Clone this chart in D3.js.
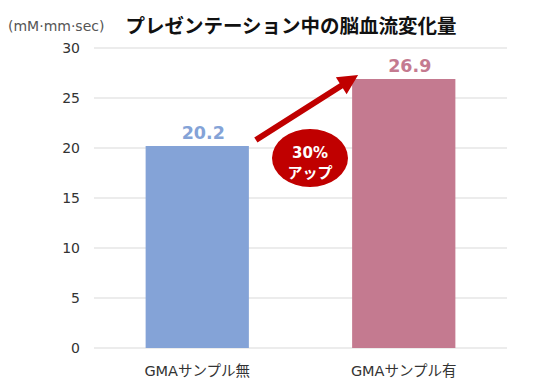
<!DOCTYPE html>
<html><head><meta charset="utf-8">
<script src="https://cdn.jsdelivr.net/npm/d3@7"></script>
<style>body{margin:0;background:#fff}svg{display:block}</style>
</head><body>
<svg id="c" width="536" height="389"></svg>
<script>
const categories = ["GMAサンプル無", "GMAサンプル有"];
const values = [20.2, 26.9];
const barColors = ["#84A3D7", "#C47A90"];
const yTicks = [0, 5, 10, 15, 20, 25, 30];
const title = "プレゼンテーション中の脳血流変化量";
const unitLabel = "(mM·mm·sec)";
const badgeLines = ["30%", "アップ"];

const font = "'DejaVu Sans', 'Noto Sans CJK JP', sans-serif";
const cjk = "'Noto Sans CJK JP', sans-serif";
const svg = d3.select("#c");
const m = {left: 94, right: 29, top: 48, bottom: 41};
const W = 536, H = 389;
const x = d3.scaleBand().domain(categories).range([m.left, W - m.right]).paddingInner(0.5).paddingOuter(0.25);
const y = d3.scaleLinear().domain([0, 30]).range([H - m.bottom, m.top]);

// grid
svg.append("g").selectAll("line").data(yTicks).join("line")
  .attr("x1", m.left).attr("x2", W - m.right)
  .attr("y1", d => y(d)).attr("y2", d => y(d))
  .attr("stroke", "#d9d9d9").attr("stroke-width", 1);

// y labels
svg.append("g").selectAll("text").data(yTicks).join("text")
  .attr("x", 80).attr("y", d => y(d)).attr("dy", "0.36em")
  .attr("text-anchor", "end").attr("font-family", font).attr("font-size", 14)
  .attr("fill", "#333").text(d => d);

// bars
svg.append("g").selectAll("rect").data(values).join("rect")
  .attr("x", (d, i) => x(categories[i])).attr("width", x.bandwidth())
  .attr("y", d => y(d)).attr("height", d => y(0) - y(d))
  .attr("fill", (d, i) => barColors[i]);

// value labels
svg.append("g").selectAll("text").data(values).join("text")
  .attr("x", (d, i) => x(categories[i]) + x.bandwidth() / 2 + 6)
  .attr("y", d => y(d) - 7)
  .attr("text-anchor", "middle").attr("font-family", font).attr("font-weight", "bold")
  .attr("font-size", 17.5).attr("fill", (d, i) => barColors[i]).text(d => d.toFixed(1));

// category labels
svg.append("g").selectAll("text").data(categories).join("text")
  .attr("x", d => x(d) + x.bandwidth() / 2).attr("y", H - 13)
  .attr("text-anchor", "middle").attr("font-family", font).attr("font-size", 14.5)
  .attr("fill", "#333").text(d => d);

// title and unit
svg.append("text").attr("x", 291).attr("y", 33).attr("text-anchor", "middle")
  .attr("font-family", cjk).attr("font-weight", "bold").attr("font-size", 19.5)
  .attr("fill", "#111").text(title);
svg.append("text").attr("x", 8).attr("y", 31)
  .attr("font-family", font).attr("font-size", 14).attr("fill", "#555").text(unitLabel);

// arrow
const x0 = x(categories[0]) + x.bandwidth() + 7, y0 = y(values[0]) - 6;
const x1 = x(categories[1]) + 6, y1 = y(values[1]) - 4;
const ang = Math.atan2(y1 - y0, x1 - x0);
const headLen = 20, headW = 10, shaft = 3;
const ux = Math.cos(ang), uy = Math.sin(ang), px = -uy, py = ux;
const bx = x1 - ux * headLen, by = y1 - uy * headLen;
const pts = [
  [x0 + px * shaft, y0 + py * shaft],
  [bx + px * shaft, by + py * shaft],
  [bx + px * headW, by + py * headW],
  [x1, y1],
  [bx - px * headW, by - py * headW],
  [bx - px * shaft, by - py * shaft],
  [x0 - px * shaft, y0 - py * shaft]
];
svg.append("polygon").attr("points", pts.map(p => p.join(",")).join(" ")).attr("fill", "#C00000");

// badge
const cx = 310, cy = 158;
svg.append("ellipse").attr("cx", cx).attr("cy", cy).attr("rx", 38).attr("ry", 29).attr("fill", "#C00000");
svg.append("g").selectAll("text").data(badgeLines).join("text")
  .attr("x", cx).attr("y", (d, i) => cy + i * 20)
  .attr("text-anchor", "middle").attr("font-family", font).attr("font-weight", "bold")
  .attr("font-size", 15).attr("fill", "#fff").text(d => d);
</script>
</body></html>
